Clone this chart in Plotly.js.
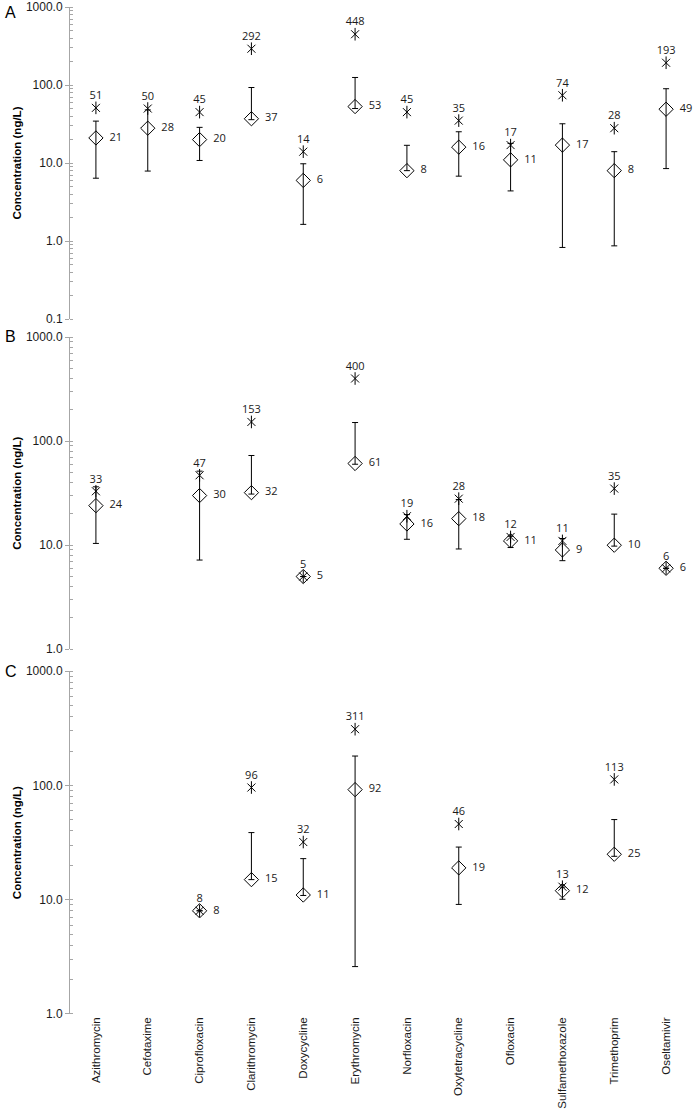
<!DOCTYPE html>
<html>
<head>
<meta charset="utf-8">
<script src="https://cdn.plot.ly/plotly-3.0.1.min.js"></script>
<style>
  html, body { margin: 0; padding: 0; background: #fff; }
  #chart { width: 693px; height: 1109px; }
  #chart text { -webkit-font-smoothing: antialiased; }
</style>
</head>
<body>
<div id="chart"></div>
<script>
// compounds along the x axis
const drugs = ['Azithromycin', 'Cefotaxime', 'Ciprofloxacin', 'Clarithromycin', 'Doxycycline',
  'Erythromycin', 'Norfloxacin', 'Oxytetracycline', 'Ofloxacin', 'Sulfamethoxazole',
  'Trimethoprim', 'Oseltamivir'];

// panel A
const meanA = [21, 28, 20, 37, 6, 53, 8, 16, 11, 17, 8, 49];
const maxA  = [51, 50, 45, 292, 14, 448, 45, 35, 17, 74, 28, 193];
const upA   = [34.5, 48, 28.7, 93, 9.8, 125, 16.9, 25.2, 17.9, 31.9, 14, 89.7];
const lowA  = [6.4, 7.9, 10.8, 36, 1.64, 50, 8, 6.8, 4.4, 0.83, 0.87, 8.5];

// panel B
const meanB = [24, null, 30, 32, 5, 61, 16, 18, 11, 9, 10, 6];
const maxB  = [33, null, 47, 153, 5, 400, 19, 28, 12, 11, 35, 6];
const upB   = [36.4, null, 51.5, 72.8, null, 151, 19.7, 27.5, 12.2, 11.6, 19.9, null];
const lowB  = [10.4, null, 7.2, 31, null, 60, 11.4, 9.2, 9.5, 7.1, 9.8, null];

// panel C
const meanC = [null, null, 8, 15, 11, 92, null, 19, null, 12, 25, null];
const maxC  = [null, null, 8, 96, 32, 311, null, 46, null, 13, 113, null];
const upC   = [null, null, null, 38.7, 22.9, 181, null, 28.9, null, 12.9, 50.3, null];
const lowC  = [null, null, null, 15, 10.9, 2.6, null, 9.1, null, 10.1, 24, null];

const labelFont = { family: 'Open Sans, sans-serif', size: 11, color: '#1a1a1a' };
const axFont = 'Liberation Sans, Arial, sans-serif';

function txt(arr, pad) { return arr.map(v => v == null ? '' : pad + String(v)); }

// diamonds (with error bars) + excel-style stars for one panel
function panelTraces(mean, max, up, low, yax) {
  const plus = mean.map((m, i) => (m == null || up[i] == null) ? null : up[i] - m);
  const minus = mean.map((m, i) => (m == null || low[i] == null) ? null : m - low[i]);
  return [
    {
      x: drugs, y: mean, yaxis: yax, type: 'scatter', mode: 'markers+text',
      text: txt(mean, '\u00a0\u00a0'), textposition: 'middle right', textfont: labelFont,
      marker: { symbol: 'diamond-open', size: 11, color: '#000', line: { width: 1, color: '#000' } },
      error_y: { type: 'data', symmetric: false, array: plus, arrayminus: minus,
                 color: '#000', thickness: 1, width: 3 },
      cliponaxis: false
    },
    // star = x plus a vertical stroke
    {
      x: drugs, y: max, yaxis: yax, type: 'scatter', mode: 'markers',
      marker: { symbol: 'line-ns-open', size: 9, color: '#000', line: { width: 1, color: '#000' } },
      cliponaxis: false
    },
    {
      x: drugs, y: max, yaxis: yax, type: 'scatter', mode: 'markers+text',
      text: txt(max, ''), textposition: 'top center', textfont: labelFont,
      marker: { symbol: 'x-thin-open', size: 8, color: '#000', line: { width: 1, color: '#000' } },
      cliponaxis: false
    }
  ];
}

const traces = [
  ...panelTraces(meanA, maxA, upA, lowA, 'y'),
  ...panelTraces(meanB, maxB, upB, lowB, 'y2'),
  ...panelTraces(meanC, maxC, upC, lowC, 'y3')
];

function logAxis(range, domain) {
  return {
    type: 'log', range: range, domain: domain, anchor: 'x',
    dtick: 1, tickformat: '.1f', tickfont: { family: axFont, size: 12, color: '#1a1a1a' },
    showline: true, linecolor: '#a6a6a6', linewidth: 1,
    ticks: 'outside', ticklen: 4, tickcolor: '#a6a6a6',
    minor: { ticks: 'inside', ticklen: 3, tickcolor: '#a6a6a6', dtick: 'D1' },
    showgrid: false, zeroline: false,
    title: { text: '<b>Concentration (ng/L)</b>', font: { family: axFont, size: 11.5, color: '#000' }, standoff: 1 }
  };
}

function panelLetter(letter, y) {
  return { text: letter, xref: 'paper', yref: 'paper', x: -0.108, y: y, xanchor: 'left', yanchor: 'middle',
           showarrow: false, font: { family: axFont, size: 16, color: '#000' } };
}

const layout = {
  width: 693, height: 1109,
  margin: { l: 70, r: 1, t: 7, b: 95 },
  paper_bgcolor: '#fff', plot_bgcolor: '#fff',
  showlegend: false,
  xaxis: {
    type: 'category', range: [-0.5, 11.5], anchor: 'y3',
    showline: false, ticks: '', showgrid: false, zeroline: false,
    tickangle: -90, tickfont: { family: axFont, size: 11.5, color: '#1a1a1a' }
  },
  yaxis: logAxis([-1, 3], [0.690, 1.0]),
  yaxis2: logAxis([0, 3], [0.3622, 0.6722]),
  yaxis3: logAxis([0, 3], [0, 0.3404]),
  annotations: [
    panelLetter('A', 0.995),
    panelLetter('B', 0.6723),
    panelLetter('C', 0.3406)
  ]
};

Plotly.newPlot('chart', traces, layout, { displayModeBar: false, staticPlot: true });
</script>
</body>
</html>
